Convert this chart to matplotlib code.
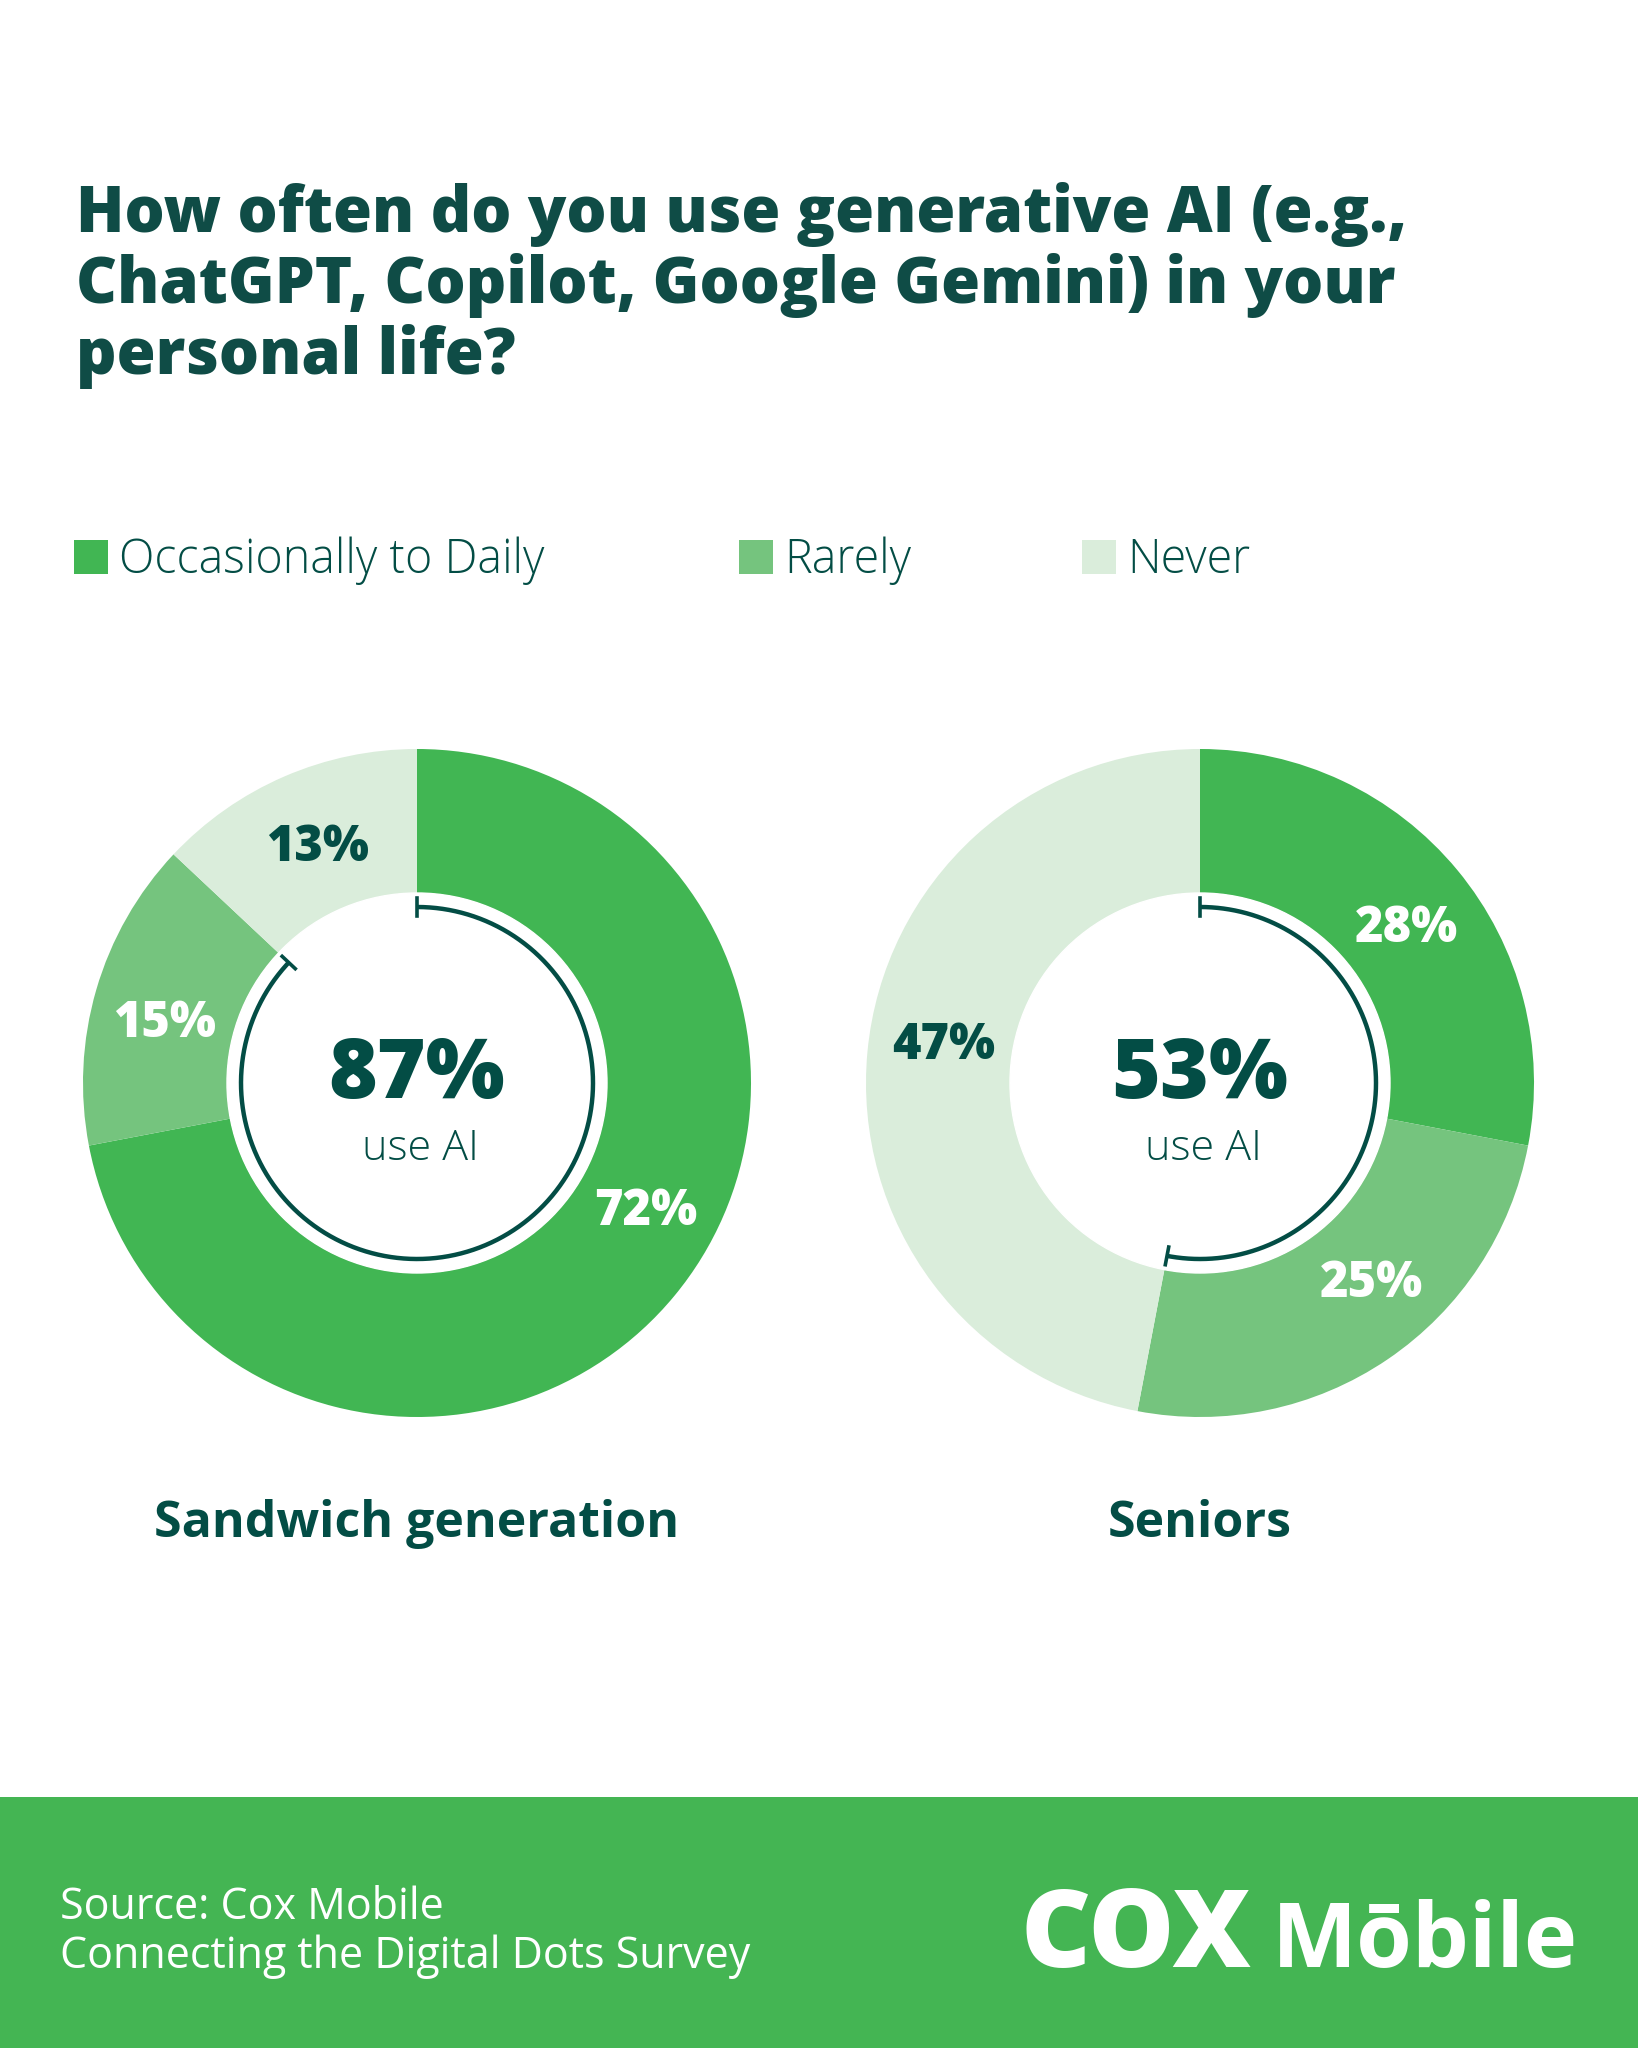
import numpy as np
import matplotlib
matplotlib.use("Agg")
import matplotlib.pyplot as plt
from matplotlib.patches import Rectangle, Circle

# data
categories = ["Occasionally to Daily", "Rarely", "Never"]
groups = ["Sandwich generation", "Seniors"]
values = {
    "Sandwich generation": [72, 15, 13],
    "Seniors": [28, 25, 47],
}
use_ai = {"Sandwich generation": 87, "Seniors": 53}
title_lines = [
    "How often do you use generative AI (e.g.,",
    "ChatGPT, Copilot, Google Gemini) in your",
    "personal life?",
]
source_lines = ["Source: Cox Mobile", "Connecting the Digital Dots Survey"]

# style
W, H = 1638, 2048
colors = ["#41b653", "#75c47e", "#daeddb"]
label_colors = ["white", "white", "#034d45"]
dark = "#034d45"
title_col = "#0f4c46"
footer_green = "#44b553"
FONT = ["Open Sans", "DejaVu Sans"]
centers = {"Sandwich generation": (417, 1083), "Seniors": (1200, 1083)}
R_OUT, R_IN, R_ARC = 334, 190, 176
label_nudge = {"Sandwich generation": [-11, -2, 1], "Seniors": [2, -7, 4]}

fig = plt.figure(figsize=(W / 100, H / 100), dpi=100)
ax = fig.add_axes([0, 0, 1, 1])

for g in groups:
    cx, cy = centers[g]
    vals = values[g]
    # inverted y axis: visual clockwise from top == data ccw from -90
    ax.pie(vals, colors=colors, startangle=-90, counterclock=True,
           radius=R_OUT, center=(cx, cy),
           wedgeprops=dict(width=R_OUT - R_IN, linewidth=0))
    ax.add_patch(Circle((cx, cy), R_IN, color="white", zorder=3))

    # slice labels
    cum = np.cumsum([0] + vals)
    for i, v in enumerate(vals):
        mid = (cum[i] + cum[i + 1]) / 2 / 100 * 360 + label_nudge[g][i]
        a = np.deg2rad(mid)
        lx = cx + 260 * np.sin(a)
        ly = cy - 260 * np.cos(a)
        ax.text(lx, ly + 18, f"{v}%", ha="center", va="baseline",
                fontsize=35, fontweight="heavy", color=label_colors[i],
                family=FONT, zorder=5)

    # arc for share using AI
    end = use_ai[g] / 100 * 2 * np.pi
    t = np.linspace(0, end, 300)
    ax.plot(cx + R_ARC * np.sin(t), cy - R_ARC * np.cos(t), color=dark,
            lw=3.2, solid_capstyle="butt", zorder=4)
    for tt in (0, end):
        rr = np.array([R_ARC - 9, R_ARC + 9])
        ax.plot(cx + rr * np.sin(tt), cy - rr * np.cos(tt), color=dark,
                lw=2.6, zorder=4)

    ax.text(cx, cy + 15, f"{use_ai[g]}%", ha="center", va="baseline",
            fontsize=60, fontweight="heavy", color=dark, family=FONT, zorder=5)
    ax.text(cx + 3, cy + 77, "use AI", ha="center", va="baseline",
            fontsize=31, fontweight="light", color=dark, family=FONT, zorder=5)

    ax.text(cx, 1537, g, ha="center", va="baseline", fontsize=36,
            fontweight="bold", color=dark, family=FONT)

# title
for i, line in enumerate(title_lines):
    ax.text(76, 232 + i * 71, line, ha="left", va="baseline", fontsize=45.5,
            fontweight="heavy", color=title_col, family=FONT)

# legend
leg_x = [74, 739, 1082]
for x, c, lab in zip(leg_x, colors, categories):
    ax.add_patch(Rectangle((x, 540), 34, 34, color=c, lw=0))
    ax.text(x + 45, 573, lab, ha="left", va="baseline", fontsize=33.5,
            fontweight="light", color=dark, family=FONT)

# footer
ax.add_patch(Rectangle((0, 1797), W, H - 1797, color=footer_green, lw=0))
for i, line in enumerate(source_lines):
    ax.text(60, 1919 + i * 49, line, ha="left", va="baseline", fontsize=31,
            color="white", family=FONT)
ax.text(1020, 1967, "COX", ha="left", va="baseline", fontsize=78,
        fontweight="heavy", color="white", family=FONT)
ax.text(1272, 1967, "Mōbile", ha="left", va="baseline", fontsize=65,
        fontweight="bold", color="white", family=FONT)

ax.set_xlim(0, W)
ax.set_ylim(H, 0)
ax.set_aspect("auto")
ax.axis("off")

fig.savefig("out.png", dpi=100, facecolor="white")
